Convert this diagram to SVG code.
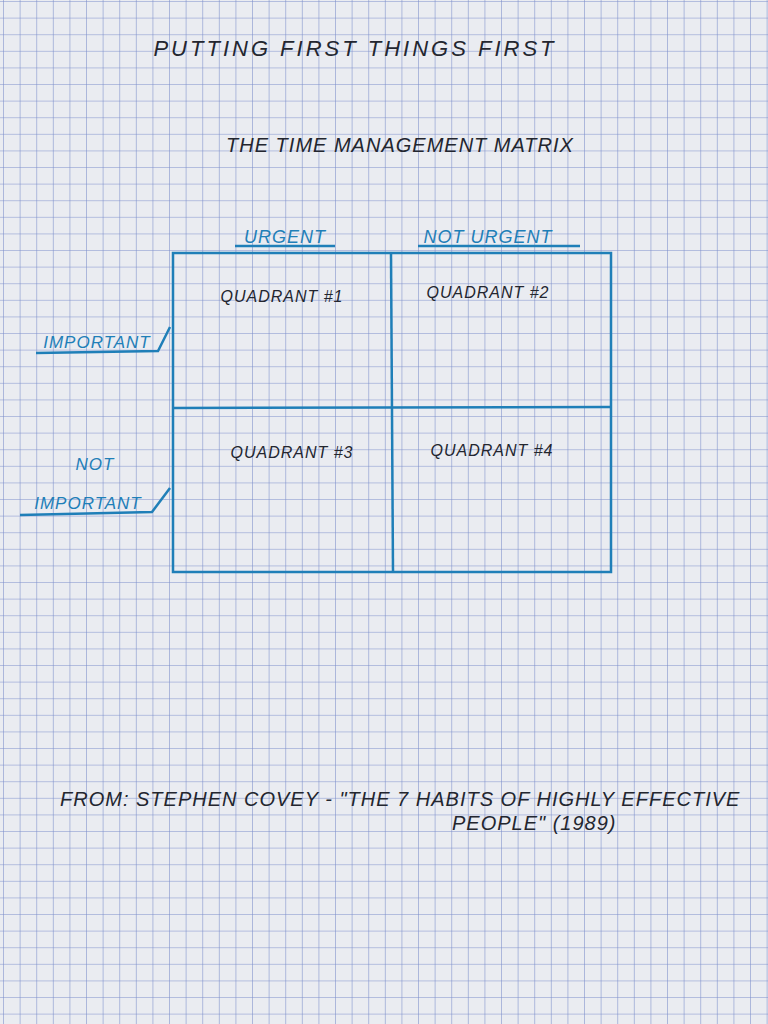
<svg xmlns="http://www.w3.org/2000/svg" width="768" height="1024" viewBox="0 0 768 1024">
<defs>
<pattern id="grid" width="16.6" height="16.6" patternUnits="userSpaceOnUse" x="4" y="2">
<path d="M16.6 0V16.6M0 16.6H16.6" fill="none" stroke="#7b8ecb" stroke-width="1.1"/>
</pattern>
<style>
.hand{font-family:"Liberation Sans",sans-serif;font-style:italic;letter-spacing:1px}
.wide{letter-spacing:3px}
.blk{fill:#23262f}
.blu{fill:#1f7fb8}
.ln{stroke:#1f7fb8;stroke-width:2.5;fill:none}
</style>
</defs>
<rect width="768" height="1024" fill="#eaecf1"/>
<rect width="768" height="1024" fill="url(#grid)"/>
<g id="title"><text class="hand wide blk" x="355" y="56" font-size="22" text-anchor="middle">PUTTING FIRST THINGS FIRST</text></g>
<g id="subtitle"><text class="hand blk" x="400" y="152" font-size="20" text-anchor="middle">THE TIME MANAGEMENT MATRIX</text></g>
<g id="connectors">
<rect class="ln" x="173" y="253" width="438" height="319"/>
<line class="ln" x1="391" y1="253" x2="393" y2="572"/>
<line class="ln" x1="173" y1="408" x2="611" y2="407"/>
<line class="ln" x1="235" y1="246" x2="335" y2="246"/>
<line class="ln" x1="418" y1="246" x2="580" y2="246"/>
<polyline class="ln" points="36,353 158,351 170,327"/>
<polyline class="ln" points="20,515 152,512 170,488"/>
</g>
<g id="col-urgent"><text class="hand blu" x="285" y="243" font-size="18" text-anchor="middle">URGENT</text></g>
<g id="col-noturgent"><text class="hand blu" x="488" y="243" font-size="18" text-anchor="middle">NOT URGENT</text></g>
<g id="row-important"><text class="hand blu" x="97" y="348" font-size="17" text-anchor="middle">IMPORTANT</text></g>
<g id="row-notimportant"><text class="hand blu" x="95" y="470" font-size="17" text-anchor="middle">NOT</text><text class="hand blu" x="88" y="509" font-size="17" text-anchor="middle">IMPORTANT</text></g>
<g id="q1"><text class="hand blk" x="282" y="302" font-size="16" text-anchor="middle">QUADRANT #1</text></g>
<g id="q2"><text class="hand blk" x="488" y="298" font-size="16" text-anchor="middle">QUADRANT #2</text></g>
<g id="q3"><text class="hand blk" x="292" y="458" font-size="16" text-anchor="middle">QUADRANT #3</text></g>
<g id="q4"><text class="hand blk" x="492" y="456" font-size="16" text-anchor="middle">QUADRANT #4</text></g>
<g id="source"><text class="hand blk" x="60" y="806" font-size="20">FROM: STEPHEN COVEY - "THE 7 HABITS OF HIGHLY EFFECTIVE</text>
<text class="hand blk" x="452" y="830" font-size="20">PEOPLE"    (1989)</text></g>
</svg>
